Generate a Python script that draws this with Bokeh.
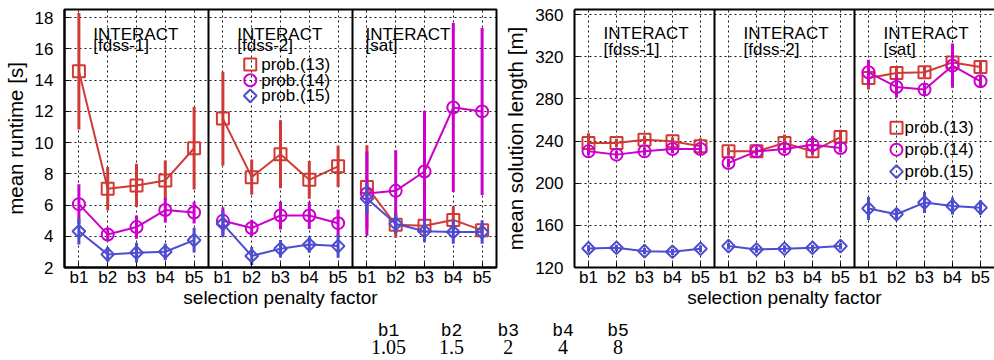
import numpy as np
from bokeh.plotting import figure
from bokeh.models import Range1d, FixedTicker, Span, LinearAxis, ColumnDataSource
from bokeh.layouts import row, column
from bokeh.embed import file_html
from bokeh.resources import INLINE
from bokeh.core.properties import value

# ---------------- data ----------------
categories = ["b1", "b2", "b3", "b4", "b5"]
factors = ["1.05", "1.5", "2", "4", "8"]
panels = ["fdss-1", "fdss-2", "sat"]
series_names = ["prob.(13)", "prob.(14)", "prob.(15)"]
runtime_ticks = [2, 4, 6, 8, 10, 12, 14, 16, 18]
length_ticks = [120, 160, 200, 240, 280, 320, 360]

# mean runtime [s], one list per panel (fdss-1, fdss-2, sat)
rt13_mean = [[14.57, 7.05, 7.26, 7.58, 9.64], [11.54, 7.79, 9.26, 7.62, 8.48], [7.16, 4.74, 4.67, 5.05, 4.38]]
rt13_err = [[3.73, 1.39, 1.39, 1.27, 2.65], [3.0, 1.13, 2.18, 1.21, 1.32], [2.68, 0.84, 0.42, 0.88, 0.47]]
rt14_mean = [[6.06, 4.11, 4.59, 5.68, 5.52], [4.99, 4.53, 5.33, 5.33, 4.84], [6.74, 6.91, 8.15, 12.25, 12.0]]
rt14_err = [[1.27, 0.45, 0.74, 0.79, 0.70], [0.87, 0.53, 0.89, 0.87, 0.88], [2.7, 2.6, 3.89, 5.42, 5.35]]
rt15_mean = [[4.32, 2.84, 2.95, 3.01, 3.75], [4.80, 2.74, 3.20, 3.47, 3.37], [6.42, 4.80, 4.32, 4.27, 4.27]]
rt15_err = [[0.85, 0.47, 0.63, 0.53, 0.79], [0.85, 0.58, 0.56, 0.53, 0.74], [1.0, 0.63, 0.70, 0.75, 0.75]]

# mean solution length [m]
len13_mean = [[238.1, 238.1, 241.3, 239.7, 235.0], [230.2, 230.2, 238.1, 230.2, 243.8], [299.9, 304.6, 305.2, 314.6, 310.3]]
len13_err = [[9.4, 4, 4, 4, 7.6], [4, 4, 8, 4, 7], [11, 5, 5, 6, 5]]
len14_mean = [[230.2, 227.1, 230.2, 232.4, 232.4], [219.2, 230.2, 232.4, 236.5, 233.4], [305.2, 291.3, 288.8, 311.5, 296.7]]
len14_err = [[4, 4, 4, 4, 4], [4, 4, 4, 8, 4], [12, 10, 6, 21, 6]]
len15_mean = [[138.1, 138.7, 135.5, 134.9, 137.8], [140.3, 137.1, 137.8, 138.7, 140.3], [176.0, 170.5, 181.6, 178.4, 176.8]]
len15_err = [[3, 3, 3, 3, 3], [3, 3, 3, 3, 3], [11, 5, 10, 8, 7]]

# ---------------- style ----------------
COLORS = ["#d03a36", "#cc00cc", "#4d4dcf"]
MARKERS = [("square", 12, 0.0), ("circle", 12, 0.0), ("square", 9, np.pi / 4)]
FONT = "Liberation Sans"
NP = len(categories)


def build(means, errs, y0, y1, yticks, ylabel, width, bl, br, bt,
          head_x, head_y, leg_x, leg_y0, leg_step, leg_dx, outline):
    p = figure(width=width, height=310, x_range=Range1d(0.5, 3 * NP + 0.5),
               y_range=Range1d(y0, y1), output_backend="svg", toolbar_location=None,
               min_border_left=bl, min_border_right=br, min_border_top=bt,
               min_border_bottom=42)
    p.background_fill_color = "white"
    p.border_fill_color = "white"
    xt = list(range(1, 3 * NP + 1))
    p.xaxis.ticker = FixedTicker(ticks=xt, minor_ticks=[])
    p.xaxis.major_label_overrides = {i: categories[(i - 1) % NP] for i in xt}
    p.yaxis.ticker = FixedTicker(ticks=yticks, minor_ticks=[])
    p.xgrid.ticker = FixedTicker(ticks=xt, minor_ticks=[])
    p.ygrid.ticker = FixedTicker(ticks=yticks, minor_ticks=[])
    for g in (p.xgrid, p.ygrid):
        g.grid_line_color = "black"
        g.grid_line_dash = "2 3"
        g.grid_line_width = 1
        g.grid_line_alpha = 0.9
    for ax in (p.xaxis, p.yaxis):
        ax.major_label_text_font = FONT
        ax.major_label_text_font_size = "17px"
        ax.major_label_text_color = "black"
        ax.axis_label_text_font = FONT
        ax.axis_label_text_font_style = "normal"
        ax.axis_label_text_color = "black"
        ax.major_tick_in = 5
        ax.major_tick_out = 0
        ax.major_tick_line_color = "black"
        ax.minor_tick_line_color = None
        ax.axis_line_color = "black"
        ax.axis_line_width = 2
    p.xaxis.axis_label = "selection penalty factor"
    p.xaxis.axis_label_text_font_size = "19px"
    p.xaxis.major_label_standoff = 0
    p.xaxis.axis_label_standoff = -3
    p.yaxis.axis_label = ylabel
    p.yaxis.axis_label_text_font_size = "20.5px"
    p.yaxis.major_label_standoff = 11
    p.yaxis.axis_label_standoff = 5
    if outline:
        p.outline_line_color = "black"
        p.outline_line_width = 2
    else:
        p.outline_line_color = None
        top = LinearAxis(ticker=FixedTicker(ticks=[], minor_ticks=[]),
                         major_label_text_font_size="0px", axis_line_width=2,
                         axis_line_color="black", major_tick_line_color=None,
                         minor_tick_line_color=None)
        p.add_layout(top, "above")

    # panel separators
    for k in range(1, 3):
        p.add_layout(Span(location=k * NP + 0.5, dimension="height",
                          line_color="black", line_width=2))

    # series
    for s in range(3):
        c = COLORS[s]
        mk, sz, ang = MARKERS[s]
        for k in range(3):
            xs = [k * NP + i + 1 for i in range(NP)]
            m = np.array(means[s][k], dtype=float)
            e = np.array(errs[s][k], dtype=float)
            src = ColumnDataSource(dict(x=xs, y=m, lo=m - e, hi=m + e))
            p.segment(x0="x", y0="lo", x1="x", y1="hi", source=src,
                      line_color=c, line_width=3)
            p.line(x="x", y="y", source=src, line_color=c, line_width=2)
            p.scatter(x="x", y="y", source=src, marker=mk, size=sz, angle=ang,
                      fill_color=None, line_color=c, line_width=2)

    # panel headers
    hx = [k * NP + head_x[k] for k in range(3)]
    p.text(x=hx, y=[head_y[0]] * 3, text=["INTERACT"] * 3,
           text_font=value(FONT), text_font_size="17px", text_color="black",
           text_align="left", text_baseline="alphabetic")
    p.text(x=hx, y=[head_y[1]] * 3, text=["[" + n + "]" for n in panels],
           text_font=value(FONT), text_font_size="17px", text_color="black",
           text_align="left", text_baseline="alphabetic")

    # key
    for s in range(3):
        mk, sz, ang = MARKERS[s]
        ly = leg_y0 - s * leg_step
        p.scatter(x=[leg_x], y=[ly], marker=mk, size=sz, angle=ang,
                  fill_color=None, line_color=COLORS[s], line_width=2)
        p.text(x=[leg_x + leg_dx], y=[ly], text=[series_names[s]],
               text_font=value(FONT), text_font_size="17px", text_color="black",
               text_align="left", text_baseline="middle")
    return p


pL = build([rt13_mean, rt14_mean, rt15_mean], [rt13_err, rt14_err, rt15_err],
           2, 18.53, runtime_ticks, "mean runtime [s]", 500, 64, 4, 7,
           [1.5, 1.5, 0.95], [16.96, 16.21], 6.95, 15.0, 1.0, 0.38, True)
pR = build([len13_mean, len14_mean, len15_mean], [len13_err, len14_err, len15_err],
           120, 364.8, length_ticks, "mean solution length [m]", 494, 74, 0, 9,
           [1.54, 1.54, 1.54], [342.1, 327.0], 12.0, 252.6, 20.8, 0.29, False)

# ---------------- legend table of factors ----------------
pT = figure(width=994, height=50, x_range=Range1d(0, 994), y_range=Range1d(0, 50),
            output_backend="svg", toolbar_location=None, min_border=0,
            x_axis_location=None, y_axis_location=None)
pT.outline_line_color = None
pT.xgrid.visible = False
pT.ygrid.visible = False
fs = 17.0
sep = 37.0


def serif_w(t):
    return sum(0.278 if ch == "." else 0.5 for ch in t) * fs


col_w = [max(0.525 * len(a) * fs, serif_w(b)) + sep for a, b in zip(categories, factors)]
centers = [388.0]
for i in range(1, NP):
    centers.append(centers[-1] + col_w[i - 1] / 2 + col_w[i] / 2)
pT.text(x=centers, y=[30] * NP, text=categories, text_font=value("Liberation Mono"),
        text_font_size="18px", text_align="center", text_baseline="alphabetic",
        text_color="black")
pT.text(x=centers, y=[14] * NP, text=factors, text_font=value("Liberation Serif"),
        text_font_size="20px", text_align="center", text_baseline="alphabetic",
        text_color="black")

layout = column(row(pL, pR), pT)
open("out.html", "w").write(file_html(layout, INLINE))
